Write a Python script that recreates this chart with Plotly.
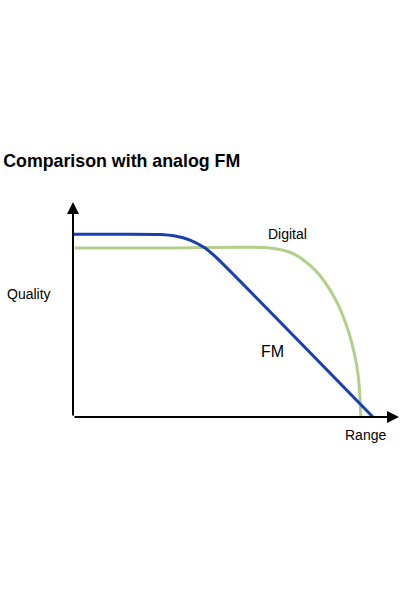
import plotly.graph_objects as go

# Sketch: quality vs range, digital against analog FM
fm_x = [0, 13.0, 26.7, 31.3, 35.9, 40.5, 43.6, 92.0]
fm_y = [85.0, 85.0, 84.9, 84.2, 82.3, 78.6, 74.7, 0]

digital_x = [0.6, 30.0, 60.4, 67.7, 74.4, 80.2, 84.6, 87.4, 88.3]
digital_y = [78.6, 78.6, 78.6, 75.9, 68.1, 55.6, 39.3, 20.3, 0]

curve_labels = ["Digital", "FM"]
curve_label_x = [65.8, 61.3]
curve_label_y = [84.9, 30.7]
curve_label_size = [14, 16]

axis_labels = ["Quality", "Range"]
axis_label_x = [-0.135, 0.896]
axis_label_y = [0.572, -0.084]

fig = go.Figure()
fig.add_trace(go.Scatter(
    x=digital_x, y=digital_y, mode="lines",
    line=dict(color="#b4cf8b", width=3, shape="spline", smoothing=0.8),
    hoverinfo="skip"
))
fig.add_trace(go.Scatter(
    x=fm_x, y=fm_y, mode="lines",
    line=dict(color="#1a3fae", width=3, shape="spline", smoothing=0.6),
    hoverinfo="skip"
))

# axes drawn as arrows
for tip_x, tip_y in [(100, 0), (0, 100)]:
    fig.add_annotation(
        x=tip_x, y=tip_y, ax=0, ay=0, xref="x", yref="y", axref="x", ayref="y",
        text="", showarrow=True, arrowhead=2, arrowsize=1.2, arrowwidth=2,
        arrowcolor="black", standoff=0
    )

for txt, lx, ly, sz in zip(curve_labels, curve_label_x, curve_label_y, curve_label_size):
    fig.add_annotation(
        x=lx, y=ly, xref="x", yref="y", text=txt, showarrow=False,
        xanchor="center", yanchor="middle", font=dict(size=sz, color="black")
    )

for txt, lx, ly in zip(axis_labels, axis_label_x, axis_label_y):
    fig.add_annotation(
        x=lx, y=ly, xref="paper", yref="paper", text=txt, showarrow=False,
        xanchor="center", yanchor="middle", font=dict(size=14, color="black")
    )

fig.update_layout(
    width=400, height=600, autosize=False,
    margin=dict(l=73, r=1, t=202, b=183),
    title=dict(
        text="<b>Comparison with analog FM</b>",
        x=0.008, xanchor="left", y=1 - 161 / 600, yanchor="middle",
        font=dict(size=17.8, color="black")
    ),
    font=dict(family="Liberation Sans, Arial, sans-serif", color="black"),
    xaxis=dict(range=[0, 100], visible=False),
    yaxis=dict(range=[0, 100], visible=False),
    plot_bgcolor="white", paper_bgcolor="white",
    showlegend=False
)

# page body has a default 8px margin; drop it so the figure sits at the corner
fig.write_html(
    "out.html",
    config={"displayModeBar": False},
    post_script="document.body.style.margin = '0';"
)
